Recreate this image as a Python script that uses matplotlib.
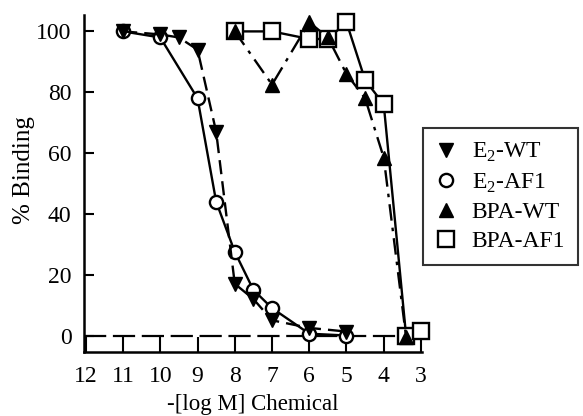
import matplotlib
matplotlib.use('Agg')
import matplotlib.pyplot as plt

plt.rcParams['font.family'] = ['Liberation Serif', 'DejaVu Serif']
plt.rcParams['mathtext.fontset'] = 'custom'
plt.rcParams['mathtext.rm'] = 'Liberation Serif'
plt.rcParams['font.size'] = 17

# -log M concentrations and % binding
e2_wt_x = [11, 10, 9.5, 9, 8.5, 8, 7.5, 7, 6, 5]
e2_wt_y = [100, 99, 98, 94, 67, 17, 12, 5, 2.5, 1.3]

e2_af1_x = [11, 10, 9, 8.5, 8, 7.5, 7, 6, 5]
e2_af1_y = [100, 98, 78, 44, 27.5, 15, 9, 0.6, 0]

bpa_wt_x = [8, 7, 6, 5.5, 5, 4.5, 4, 3.4]
bpa_wt_y = [100, 82.5, 103, 98, 86, 78, 58.5, -0.5]

bpa_af1_x = [8, 7, 6, 5.5, 5, 4.5, 4, 3.4, 3]
bpa_af1_y = [100, 100, 97.5, 97.5, 103, 84, 76, 0, 1.5]

xticks = [12, 11, 10, 9, 8, 7, 6, 5, 4, 3]
yticks = [0, 20, 40, 60, 80, 100]

fig = plt.figure(figsize=(5.83, 4.16), dpi=100)
ax = fig.add_axes([0.144, 0.154, 0.580, 0.810])

ax.axhline(0, color='black', lw=1.6, dashes=(10, 3), zorder=1)

ax.plot(e2_wt_x, e2_wt_y, color='black', lw=1.7, dashes=(6, 3),
        marker='v', ms=10.5, mfc='black', mec='black', label=r'E$_{2}$-WT', zorder=3)
ax.plot(e2_af1_x, e2_af1_y, color='black', lw=1.7, ls='-',
        marker='o', ms=9.5, mfc='white', mec='black', mew=1.7, label=r'E$_{2}$-AF1', zorder=2)
ax.plot(bpa_wt_x, bpa_wt_y, color='black', lw=1.7, dashes=(7, 3, 1.5, 3),
        marker='^', ms=10.5, mfc='black', mec='black', label='BPA-WT', zorder=3, clip_on=False)
ax.plot(bpa_af1_x, bpa_af1_y, color='black', lw=1.7, ls='-',
        marker='s', ms=11.5, mfc='white', mec='black', mew=1.7, label='BPA-AF1', zorder=2, clip_on=False)

ax.set_xlim(12.05, 2.97)
ax.set_ylim(-5.4, 105.4)
ax.set_xticks(xticks)
ax.set_yticks(yticks)
ax.tick_params(axis='x', direction='in', length=11, width=1.5, pad=10)
ax.tick_params(axis='y', direction='in', length=7, width=1.5, pad=9)
ax.spines['top'].set_visible(False)
ax.spines['right'].set_visible(False)
ax.spines['left'].set_linewidth(1.8)
ax.spines['bottom'].set_linewidth(1.8)

ax.set_xlabel('-[log M] Chemical', fontsize=16.5, labelpad=5)
ax.set_ylabel('% Binding', fontsize=18)
ax.yaxis.set_label_coords(-0.145, 0.54)

leg = fig.legend(loc='upper left', bbox_to_anchor=(0.726, 0.692),
                 borderaxespad=0, frameon=True, fancybox=False, edgecolor='black',
                 handlelength=0.8, handletextpad=0.7, borderpad=0.55,
                 labelspacing=0.3, fontsize=17)
for h in leg.legend_handles:
    h.set_linestyle('none')
leg.get_frame().set_linewidth(1.5)

fig.savefig('out.png', dpi=100)
